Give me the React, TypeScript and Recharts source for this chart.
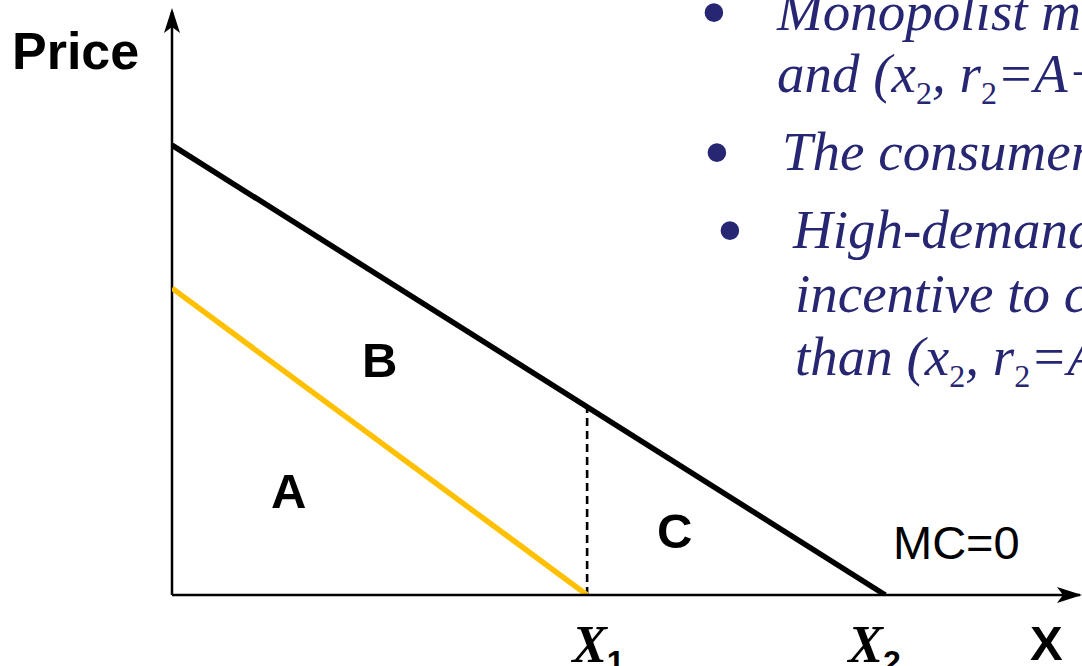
import React from "react";
import { ComposedChart, Line, XAxis, YAxis, ReferenceLine, ReferenceDot } from "recharts";

// quantities on the X axis
const X1 = 5.82;
const X2 = 10;
const X_MAX = 12.73;
// price intercepts of the two demand curves
const HIGH_INTERCEPT = 10;
const LOW_INTERCEPT = 6.82;
const Y_MAX = 12.96;

const highDemand = [
  { x: 0, y: HIGH_INTERCEPT },
  { x: X2, y: 0 },
];
const lowDemand = [
  { x: 0, y: LOW_INTERCEPT },
  { x: X1, y: 0 },
];
const quantityTicks = [X1, X2];
const tickSubscripts = ["1", "2"];

const NAVY = "#262673";
const SANS = "'Liberation Sans', Arial, sans-serif";
const SERIF = "'Liberation Serif', 'Times New Roman', serif";

function QuantityTick(props: any) {
  const { x, y, payload } = props;
  const i = quantityTicks.indexOf(payload.value);
  const dx = i === 0 ? -15 : -37;
  return (
    <text x={x + dx} y={y + 59} textAnchor="start" fill="#000">
      <tspan fontFamily={SERIF} fontStyle="italic" fontWeight="bold" fontSize={52}>
        X
      </tspan>
      <tspan fontFamily={SANS} fontWeight="bold" fontSize={32} dy={11}>
        {tickSubscripts[i]}
      </tspan>
    </text>
  );
}

function UpArrow(props: any) {
  const { cx, cy } = props;
  return (
    <polygon
      points={`${cx},${cy - 4} ${cx - 8},${cy + 21} ${cx},${cy + 15} ${cx + 8},${cy + 21}`}
      fill="#000"
    />
  );
}

function RightArrow(props: any) {
  const { cx, cy } = props;
  return (
    <polygon
      points={`${cx + 2},${cy} ${cx - 23},${cy - 8} ${cx - 17},${cy} ${cx - 23},${cy + 8}`}
      fill="#000"
    />
  );
}

function Sub({ children }: { children: string }) {
  return (
    <tspan fontStyle="normal" fontSize={32} dy={12}>
      {children}
    </tspan>
  );
}

function Bullets() {
  const line = { fontFamily: SERIF, fontStyle: "italic" as const, fontSize: 55, fill: NAVY };
  const dot = { fontFamily: SERIF, fontSize: 78, fill: NAVY, textAnchor: "middle" as const };
  return (
    <g>
      <text x={714} y={39} {...dot}>•</text>
      <text x={777} y={30} {...line}>Monopolist makes two offers</text>
      <text x={777} y={92} {...line}>
        and (x<Sub>2</Sub>
        <tspan dy={-12}>, r</tspan>
        <Sub>2</Sub>
        <tspan dy={-12}>=A+B+C)</tspan>
      </text>

      <text x={717} y={179} {...dot}>•</text>
      <text x={782} y={170} {...line}>The consumers self-select</text>

      <text x={730} y={257} {...dot}>•</text>
      <text x={793} y={248} {...line}>High-demand consumer has no</text>
      <text x={795} y={312} {...line}>incentive to choose (x1, r1=A) rather</text>
      <text x={795} y={375} {...line}>
        than (x<Sub>2</Sub>
        <tspan dy={-12}>, r</tspan>
        <Sub>2</Sub>
        <tspan dy={-12}>=A+B+C)</tspan>
      </text>
    </g>
  );
}

export default function App() {
  const dashTop = HIGH_INTERCEPT * (1 - X1 / X2);
  return (
    <div
      style={{
        position: "absolute",
        left: 0,
        top: 0,
        width: 1082,
        height: 666,
        overflow: "hidden",
        background: "#fff",
      }}
    >
      <ComposedChart
        width={1082}
        height={666}
        margin={{ top: 12, right: 2, bottom: 0, left: 172 }}
      >
        <XAxis
          dataKey="x"
          type="number"
          domain={[0, X_MAX]}
          allowDataOverflow
          ticks={quantityTicks}
          interval={0}
          tickLine={false}
          axisLine={{ stroke: "#000", strokeWidth: 2.5 }}
          tick={<QuantityTick />}
          height={71}
        />
        <YAxis type="number" domain={[0, Y_MAX]} allowDataOverflow hide />
        <ReferenceLine
          segment={[
            { x: 0, y: 0 },
            { x: 0, y: Y_MAX },
          ]}
          stroke="#000"
          strokeWidth={2.5}
          ifOverflow="visible"
        />
        <ReferenceLine
          segment={[
            { x: X1, y: 0 },
            { x: X1, y: dashTop },
          ]}
          stroke="#000"
          strokeWidth={2.6}
          strokeDasharray="8 5"
        />
        <Line
          data={lowDemand}
          dataKey="y"
          type="linear"
          stroke="#FFC000"
          strokeWidth={5.5}
          dot={false}
          isAnimationActive={false}
        />
        <Line
          data={highDemand}
          dataKey="y"
          type="linear"
          stroke="#000"
          strokeWidth={5.5}
          dot={false}
          isAnimationActive={false}
        />
        <ReferenceDot x={0} y={Y_MAX} r={1} ifOverflow="visible" shape={<UpArrow />} />
        <ReferenceDot x={X_MAX} y={0} r={1} ifOverflow="visible" shape={<RightArrow />} />
      </ComposedChart>

      <svg
        width={1082}
        height={666}
        style={{ position: "absolute", left: 0, top: 0, pointerEvents: "none" }}
      >
        <text x={12} y={69} fontFamily={SANS} fontWeight="bold" fontSize={52} fill="#000">
          Price
        </text>
        <text x={362} y={377} fontFamily={SANS} fontWeight="bold" fontSize={49} fill="#000">
          B
        </text>
        <text x={271} y={508} fontFamily={SANS} fontWeight="bold" fontSize={49} fill="#000">
          A
        </text>
        <text x={657} y={548} fontFamily={SANS} fontWeight="bold" fontSize={49} fill="#000">
          C
        </text>
        <text x={893} y={559} fontFamily={SANS} fontSize={47} fill="#000">
          MC=0
        </text>
        <text x={1030} y={660} fontFamily={SANS} fontWeight="bold" fontSize={49} fill="#000">
          X
        </text>
        <Bullets />
      </svg>
    </div>
  );
}
